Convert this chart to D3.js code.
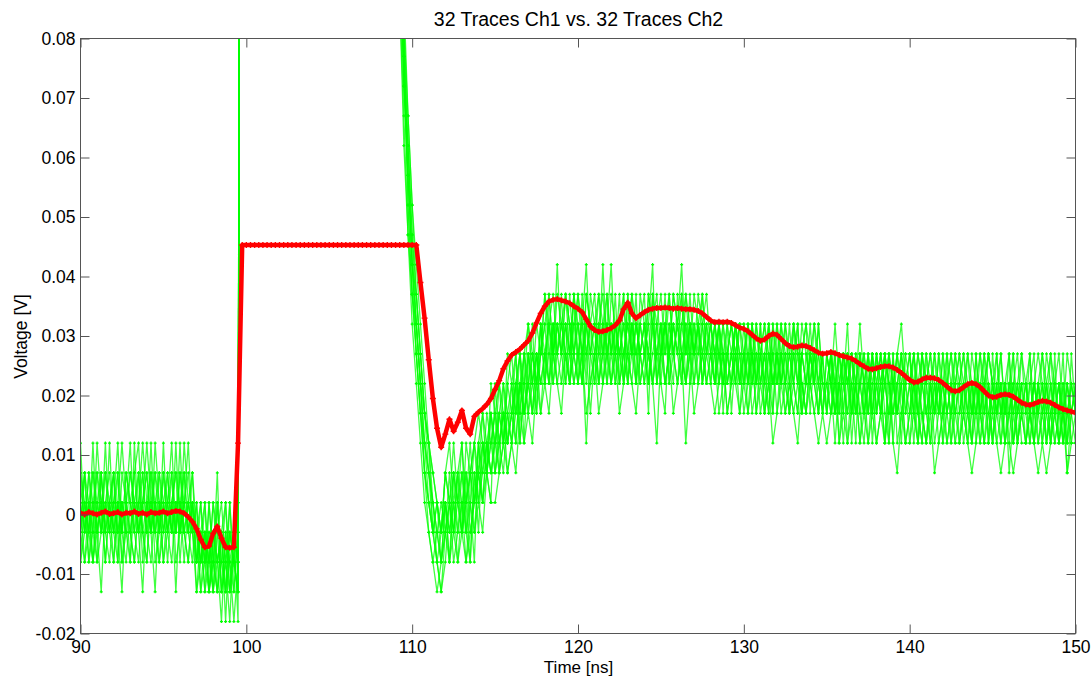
<!DOCTYPE html>
<html>
<head>
<meta charset="utf-8">
<script src="https://cdn.jsdelivr.net/npm/d3@7"></script>
<style>
  body { margin: 0; background: #fff; }
  svg { display: block; font-family: "Liberation Sans", Arial, sans-serif; }
</style>
</head>
<body>
<svg id="chart" width="1091" height="676"></svg>
<script>
// sample grid of the scope (ns) and values in mV
const timeStart = 90;
const timeStep = 0.25;
const postStart = 109; // first sample after the off-scale part of Ch1
const mV = 0.001;

const xTicks = [90, 100, 110, 120, 130, 140, 150];
const yTicks = [-0.02, -0.01, 0, 0.01, 0.02, 0.03, 0.04, 0.05, 0.06, 0.07, 0.08];

// Ch1, 90 .. 99.75 ns (last sample is off scale)
const ch1Pre = [
  [2,-3,7,2, -8,-3,2,7, -3,2,12,2, -3,-8,2,7, -3,2,-3,7, 2,-8,2,-3, 7,2,-3,2, -8,-3,-13,-8, 2,-8,-3,-13, -8,-3,-8, 300],
  [-3,7,-3,2, 7,2,-8,2, -3,-8,7,2, 12,-3,2,-3, 2,7,-8,-3, 7,2,-3,12, -3,2,7,-3, -3,2,-8,-13, -3,-8,-18,-3, -13,-8,2, 300],
  [7,-3,2,-8, 2,-3,7,2, -8,2,-3,7, 2,-3,-8,2, 12,2,-3,2, -3,7,-3,2, 2,-8,2,-3, -13,-3,-8,2, -8,-13,-3,-8, 2,-13,-3, 300],
  [-8,2,-3,7, -3,-13,2,-3, 7,-3,2,-3, -3,7,12,-3, -8,2,7,-3, 2,-3,7,-8, -3,7,-3,-8, 2,-8,-3,-13, -8,7,-13,-3, -8,-18,-8, 300],
  [2,7,-8,-3, 12,2,-3,-8, 2,7,-3,2, -8,2,-3,-13, 2,-3,2,7, -3,2,12,-3, 2,-3,2,7, -3,-13,-3,-8, -13,-3,2,-8, -3,-8,-13, 300],
  [-3,-8,2,7, 2,7,-3,12, -3,2,-8,-3, 7,2,-3,2, -3,-8,2,-3, 7,-3,2,7, 2,-3,-8,2, -8,-3,2,-8, -3,-13,-8,2, -13,-3,-8, 300],
  [7,2,-3,-8, -3,2,7,-3, 2,12,-3,-8, 2,7,-3,2, 7,-3,12,2, -8,2,-3,2, -3,12,2,-3, -8,2,-8,-3, -13,-8,-3,-13, -3,-8,-13, 300],
  [-3,2,-8,2, -3,7,-3,2, 7,-8,2,-3, -3,2,7,-8, 2,-3,-13,2, 2,7,-3,-3, 7,-3,2,-3, -3,-8,-3,-13, -8,2,-13,-8, -18,-3,2, 300],
  [-3,7,2,-8, 2,-3,12,-3, -8,2,-3,7, 2,-3,7,-3, -8,7,2,-3, 12,-3,-8,2, -3,2,-3,7, -8,-3,-13,2, -8,-13,-3,-18, -3,-8,-13, 300],
  [2,-8,-3,12, -3,2,-8,2, 7,-3,2,-3, -8,12,-3,2, 7,-3,2,-8, -3,2,7,-3, 12,-3,-8,2, -3,-8,2,-13, -3,-8,-3,2, -8,-13,-3, 300],
  [-8,-3,7,-3, 7,-3,2,-3, 2,-3,-13,2, 7,2,-3,7, -3,12,-3,-8, 2,-3,2,7, -8,2,12,-3, 2,-13,-8,-3, -13,2,-8,-13, 2,-8,-3, 300],
  [12,-3,2,-3, -8,7,-3,2, -3,7,-8,2, -3,-8,2,12, 2,-3,7,2, -8,-3,2,-13, 2,7,-3,2, -13,-8,-3,-8, 2,-3,-13,-8, -13,-3,-18, 300]
];

// Ch1, 109 .. 150 ns (first sample is off scale)
const ch1Post = [
  [300, 97,77,57,
   42,32,22,12, 7,2,-3,-8,
   -3,2,7,-3, 7,2,12,2, 7,12,7,17, 12,17,22,12, 22,17,27,22, 17,27,22,32,
   27,32,37,27, 22,32,27,37, 32,22,27,32, 37,27,22,32, 42,27,32,22, 37,27,32,27, 22,37,32,27, 32,22,27,37, 32,27,22,32, 27,37,32,22,
   27,22,32,17, 27,22,32,27,
   17,22,32,27, 22,27,17,32, 22,27,22,17, 27,32,22,17, 27,22,27,22,
   22,17,27,12, 22,17,22,27, 17,12,22,27, 17,22,12,27, 22,17,22,12,
   17,27,22,17, 12,22,17,27, 22,12,17,22, 27,17,12,22, 17,22,12,17,
   22,12,17,22, 7,17,12,22, 17,27,12,17, 22,12,17,22, 17,12,22,17,
   12],
  [300, 102,72,62,
   47,37,27,17, 12,2,-8,-13,
   -8,2,-3,7, 2,-3,7,12, 2,7,17,12, 17,7,12,22, 17,27,12,22, 27,22,32,27,
   37,27,22,32, 27,37,32,22, 27,32,42,27, 22,32,27,37, 27,32,22,27, 32,27,27,32, 27,22,32,37, 27,32,27,22, 37,27,12,22, 32,27,37,27,
   22,32,27,22, 32,17,27,22,
   27,32,22,27, 17,22,32,22, 27,17,22,32, 22,27,17,22, 32,22,17,27,
   17,27,22,17, 27,12,22,17, 22,27,17,22, 12,17,27,22, 17,22,27,17,
   22,12,22,27, 17,22,12,17, 27,17,22,12, 17,22,27,17, 22,12,17,22,
   17,22,12,17, 22,17,22,12, 12,22,17,12, 17,22,12,27, 12,17,22,12,
   17],
  [300, 92,82,52,
   37,27,17,7, 2,-3,2,-3,
   2,-8,7,2, -3,7,2,-8, 12,7,12,17, 7,17,12,17, 12,22,17,27, 22,17,27,22,
   22,32,27,37, 32,27,22,32, 37,27,32,22, 27,32,37,27, 22,27,32,37, 27,22,32,27, 32,17,37,32, 22,32,27,32, 27,37,22,27, 32,22,27,32,
   32,27,17,22, 22,27,32,22,
   32,22,27,17, 27,32,22,27, 17,27,32,22, 27,22,27,32, 17,27,22,17,
   27,22,12,22, 17,27,22,12, 27,17,22,17, 22,27,17,12, 27,12,17,22,
   27,17,12,22, 22,27,17,22, 17,22,27,17, 12,17,22,12, 27,17,22,17,
   12,17,22,17, 27,12,17,22, 22,17,12,22, 12,17,27,17, 22,12,17,22,
   22],
  [300, 97,72,57,
   42,27,17,12, 7,-3,-8,-13,
   -3,7,-3,2, 12,-3,-8,7, -3,12,7,12, 17,12,7,17, 22,12,22,17, 22,32,17,27,
   32,22,27,42, 27,32,22,27, 22,37,27,32, 32,22,27,22, 37,32,27,32, 22,27,37,22, 27,32,22,32, 37,27,32,27, 22,32,27,37, 27,22,32,27,
   27,32,22,27, 17,22,27,32,
   22,27,17,22, 32,17,27,22, 22,32,27,22, 17,22,32,27, 22,17,22,27,
   27,22,17,22, 12,22,27,17, 22,17,27,22, 27,22,12,17, 22,27,17,22,
   12,22,17,12, 27,17,22,12, 17,22,17,27, 22,12,17,22, 12,22,27,12,
   27,17,22,12, 17,22,12,17, 22,12,17,22, 27,17,22,12, 17,22,7,17,
   22],
  [300, 102,77,62,
   47,32,22,17, 12,7,2,-3,
   7,2,12,2, -3,2,7,-3, 7,2,12,7, 12,22,17,12, 17,22,27,12, 27,22,17,32,
   22,27,32,27, 37,22,27,32, 27,32,22,37, 32,27,42,27, 32,22,27,32, 27,32,22,37, 32,27,22,27, 27,37,22,32, 27,22,32,27, 37,32,22,32,
   22,27,32,27, 27,32,22,17,
   27,22,32,22, 22,27,22,17, 32,22,27,27, 22,17,27,22, 27,22,32,22,
   22,27,17,27, 22,17,27,22, 12,22,17,27, 17,27,22,27, 12,22,27,17,
   22,17,27,22, 17,12,22,17, 22,27,12,17, 17,22,17,27, 22,17,12,22,
   17,27,17,12, 22,12,22,17, 17,22,27,12, 17,12,22,17, 22,17,12,27,
   17],
  [300, 92,77,52,
   37,32,22,12, 2,-3,-3,-8,
   2,-3,2,-8, 2,7,-3,2, 12,2,7,12, 7,12,17,7, 12,17,22,27, 17,22,27,17,
   27,22,32,22, 22,27,37,27, 32,27,12,27, 27,37,32,22, 27,22,32,27, 22,32,27,32, 37,22,27,32, 27,32,22,27, 32,22,37,32, 22,27,32,37,
   27,22,27,32, 27,22,32,27,
   27,17,22,27, 27,22,32,27, 22,27,17,22, 32,27,22,17, 27,22,17,22,
   22,17,22,27, 17,27,17,22, 27,22,12,22, 22,17,22,17, 17,27,22,12,
   17,22,12,27, 22,17,27,22, 12,17,22,17, 22,27,17,12, 17,12,22,27,
   22,17,12,22, 12,22,17,27, 17,12,22,17, 22,17,12,22, 12,22,17,12,
   12],
  [300, 97,82,62,
   42,37,27,17, 7,2,-3,-3,
   2,-3,7,2, 7,-3,2,12, 7,17,12,7, 12,17,12,22, 27,17,22,17, 22,27,22,27,
   32,37,27,22, 27,32,27,37, 22,27,32,27, 32,22,27,32, 27,37,22,27, 32,27,22,27, 27,32,42,22, 32,27,37,27, 22,27,32,22, 27,32,22,27,
   32,22,27,22, 27,32,27,22,
   22,32,27,22, 27,17,22,32, 27,22,27,17, 22,32,17,27, 22,27,22,17,
   27,22,17,22, 22,27,12,22, 17,22,27,12, 22,17,27,22, 17,22,12,27,
   22,27,17,12, 22,12,17,27, 17,22,27,22, 12,22,17,12, 22,27,17,22,
   12,22,27,17, 17,12,17,22, 22,17,22,17, 12,22,17,12, 17,27,12,22,
   17],
  [300, 92,72,57,
   42,32,22,7, 2,-3,-8,-3,
   7,2,-3,-8, -3,12,7,2, 12,17,7,2, 22,12,17,12, 17,22,12,22, 32,22,27,22,
   27,32,22,27, 32,37,27,22, 27,22,37,32, 22,27,32,27, 32,27,37,22, 27,37,32,27, 32,27,22,27, 22,17,32,27, 32,42,27,32, 27,32,27,22,
   27,32,27,27, 22,27,22,32,
   27,22,27,32, 22,27,32,17, 27,22,22,27, 27,22,17,22, 22,27,17,27,
   17,22,27,17, 27,22,17,27, 22,17,22,27, 17,22,27,12, 22,17,22,27,
   27,17,22,17, 12,22,17,22, 22,17,12,22, 27,22,12,17, 17,22,17,27,
   22,17,22,12, 17,27,12,17, 12,17,22,27, 22,12,17,22, 27,17,12,17,
   22],
  [300, 107,82,67,
   52,37,27,17, 12,-3,2,-8,
   2,-8,-3,7, -3,2,-8,7, 2,12,7,17, 12,7,22,17, 12,22,27,17, 27,17,22,32,
   22,37,27,32, 27,22,32,27, 37,32,27,17, 27,32,22,27, 32,27,22,37, 22,32,27,22, 27,37,32,27, 32,22,27,32, 27,32,37,27, 22,32,27,32,
   27,22,32,27, 32,27,22,27,
   22,27,32,22, 27,22,17,27, 32,27,22,27, 22,17,27,32, 27,22,32,22,
   17,27,22,27, 22,32,17,22, 27,22,17,27, 22,27,22,17, 27,17,22,22,
   17,22,27,22, 27,22,17,22, 12,27,22,17, 22,17,27,22, 17,27,22,12,
   22,17,27,17, 22,27,17,22, 12,17,22,17, 27,22,12,17, 22,12,17,22,
   17],
  [300, 87,67,47,
   32,22,12,2, -3,-8,-3,2,
   -3,-8,2,-3, 2,-8,-3,2, 7,2,12,7, 7,12,17,12, 17,12,22,17, 22,17,27,22,
   27,22,32,27, 32,27,22,37, 27,22,32,27, 32,37,27,32, 22,32,27,27, 32,37,22,32, 27,22,32,22, 27,32,37,27, 32,27,22,32, 27,32,22,27,
   32,27,22,32, 22,27,32,22,
   27,32,27,22, 32,22,27,22, 27,32,22,17, 32,22,27,22, 22,32,27,17,
   22,27,17,22, 27,22,27,17, 22,27,22,17, 27,17,22,27, 22,17,27,22,
   22,27,17,22, 17,22,27,17, 22,17,22,27, 17,22,22,17, 22,17,27,22,
   12,22,17,22, 17,22,27,17, 22,17,12,22, 17,27,22,17, 12,17,22,17,
   22],
  [300, 107,87,67,
   52,42,32,22, 12,7,2,-3,
   7,12,2,7, 12,2,7,12, 17,12,7,22, 17,22,12,27, 22,27,17,27, 32,27,22,27,
   37,32,27,32, 27,37,32,27, 32,27,37,32, 27,22,32,37, 27,32,27,22, 37,27,32,27, 32,27,37,22, 27,32,27,37, 32,37,27,32, 27,32,37,27,
   32,27,32,22, 27,32,27,32,
   32,27,22,32, 27,32,27,22, 27,22,32,27, 32,27,27,22, 27,32,22,27,
   27,22,32,22, 27,22,27,22, 32,22,27,17, 27,22,27,22, 22,27,32,22,
   27,22,17,27, 22,27,22,17, 27,22,17,22, 22,27,22,17, 27,17,22,27,
   22,27,17,22, 27,17,22,27, 22,27,17,22, 17,22,27,22, 22,17,27,22,
   17],
  [300, 87,62,47,
   37,27,17,7, -3,-8,-13,-8,
   -3,2,-8,-3, -3,-8,2,-3, 2,-3,7,2, 2,7,12,7, 12,7,17,12, 17,12,22,17,
   22,17,27,22, 17,27,22,27, 22,27,17,22, 27,17,22,27, 22,27,17,22, 27,22,17,27, 22,27,22,12, 27,22,27,17, 22,27,22,27, 17,22,27,22,
   22,17,22,27, 17,22,27,17,
   22,17,27,17, 22,17,22,12, 17,22,17,22, 17,12,22,17, 22,17,12,17,
   12,17,22,12, 17,12,17,22, 12,17,12,17, 12,17,12,22, 12,7,17,12,
   12,17,12,17, 12,17,7,12, 17,12,17,12, 12,17,12,7, 12,17,12,12,
   17,12,7,12, 12,7,12,17, 12,17,12,7, 12,7,12,17, 12,17,7,12,
   12]
];

// Ch2, 90 .. 150 ns
const ch2 = [
  0.3,0,0.4,0.2, 0,0.3,0.5,0.1, 0.2,0.4,0,0.3, 0.2,0.5,0.1,0.3, 0,0.4,0.2,0.3,
  0.5,0.2,0.4,0.6, 0.5,0.2,-0.4,-1.2, -2.4,-4.2,-5.5,-5.3, -3.2,-2.0,-4.0,-5.5, -5.6,-5.5,12,45.3,
  45.3,45.3,45.3,45.3, 45.3,45.3,45.3,45.3, 45.3,45.3,45.3,45.3, 45.3,45.3,45.3,45.3, 45.3,45.3,45.3,45.3,
  45.3,45.3,45.3,45.3, 45.3,45.3,45.3,45.3, 45.3,45.3,45.3,45.3, 45.3,45.3,45.3,45.3, 45.3,45.3,45.3,45.3,
  45.3,45.3,39,33, 26,19.5,14.5,11.3,
  13.5,16,14,15.5, 17.5,14.5,13.5,16.5, 17.2,17.8,18.5,19.5, 21,22.5,24.5,25.8, 26.8,27.3,27.8,28.5, 29.2,30.5,32.2,33.8,
  35,35.8,36.1,36.2, 36,35.8,35.5,35, 34.6,34,32.8,31.6, 31,30.7,30.8,31, 31.3,31.8,32.6,34.5,
  35.6,33.8,33,33.5, 34,34.4,34.6,34.7, 34.7,34.8,34.7,34.6, 34.7,34.6,34.5,34.5, 34.4,34.2,33.8,33.2,
  32.6,32.3,32.4,32.3, 32.4,32.2,31.8,31.4, 31.2,30.8,30.2,29.6, 29.2,29.4,30,30.4, 30.2,29.5,28.8,28.3,
  28.1,28.2,28.4,28.3, 28,27.6,27.2,27, 27.1,27.3,27.1,26.8, 26.6,26.4,26.2,25.8, 25.3,24.9,24.5,24.4,
  24.6,24.8,24.9,24.9, 24.7,24.3,23.8,23.2, 22.6,22.2,22.3,22.7, 23,23,22.9,22.6, 22.1,21.5,20.9,20.7,
  20.9,21.4,21.9,22.1, 21.9,21.4,20.7,20, 19.7,19.8,20.1,20.2, 20.1,19.8,19.3,18.8, 18.5,18.4,18.6,18.9,
  19.1,19,18.8,18.4, 18,17.7,17.5,17.3, 17.1
];

const svg = d3.select("#chart");
const width = +svg.attr("width");
const height = +svg.attr("height");

const margin = { top: 39, right: 15, bottom: 42, left: 81 };
const innerWidth = width - margin.left - margin.right;
const innerHeight = height - margin.top - margin.bottom;

const g = svg.append("g")
  .attr("transform", `translate(${margin.left - 0.5},${margin.top - 0.5})`);

const xScale = d3.scaleLinear().domain([90, 150]).range([0, innerWidth]);
const yScale = d3.scaleLinear().domain([-0.02, 0.08]).range([innerHeight, 0]);

g.append("clipPath").attr("id", "plotClip")
  .append("rect").attr("width", innerWidth).attr("height", innerHeight);

const plot = g.append("g").attr("clip-path", "url(#plotClip)");

const toPoints = (vals, t0) => vals.map((v, i) => ({ t: t0 + i * timeStep, v: v * mV }));

const line = d3.line()
  .x((d) => xScale(d.t))
  .y((d) => yScale(d.v));

// Ch1 traces, green
const greenTraces = [];
ch1Pre.forEach((vals) => greenTraces.push(toPoints(vals, timeStart)));
ch1Post.forEach((vals) => greenTraces.push(toPoints(vals, postStart)));

const greenGroup = plot.append("g");
greenTraces.forEach((pts) => {
  greenGroup.append("path")
    .datum(pts)
    .attr("d", line)
    .attr("fill", "none")
    .attr("stroke", "#00ff00")
    .attr("stroke-opacity", 0.75)
    .attr("stroke-width", 1.3);
});
greenTraces.forEach((pts) => {
  greenGroup.append("g").selectAll("path")
    .data(pts.filter((d) => d.v < 0.1))
    .join("path")
    .attr("transform", (d) => `translate(${xScale(d.t)},${yScale(d.v)})`)
    .attr("d", "M-1.5,0H1.5M0,-1.5V1.5")
    .attr("stroke", "#00ff00")
    .attr("stroke-width", 1.2);
});

// Ch2, red with + markers
const redPts = toPoints(ch2, timeStart);
plot.append("path")
  .datum(redPts)
  .attr("d", line)
  .attr("fill", "none")
  .attr("stroke", "#ff0000")
  .attr("stroke-width", 4.5)
  .attr("stroke-linejoin", "round");
plot.append("g").selectAll("path")
  .data(redPts)
  .join("path")
  .attr("transform", (d) => `translate(${xScale(d.t)},${yScale(d.v)})`)
  .attr("d", "M-3,0H3M0,-3V3")
  .attr("stroke", "#ff0000")
  .attr("stroke-width", 1.4);

// axes, ticks inside on all four sides
const tickLen = 9;
const axisColor = "#555";

function styleAxis(sel) {
  sel.select(".domain").remove();
  sel.selectAll(".tick line").attr("stroke", axisColor);
  sel.selectAll("text")
    .attr("fill", "#000")
    .style("font-size", "17.5px");
}

g.append("g")
  .call(d3.axisTop(xScale).tickValues(xTicks).tickSize(-tickLen).tickFormat(""))
  .call(styleAxis);
g.append("g")
  .attr("transform", `translate(${innerWidth},0)`)
  .call(d3.axisRight(yScale).tickValues(yTicks).tickSize(-tickLen).tickFormat(""))
  .call(styleAxis);
g.append("g")
  .call(d3.axisLeft(yScale).tickValues(yTicks).tickSize(-tickLen).tickPadding(5).tickFormat((d) => String(d)))
  .call(styleAxis);
g.append("g")
  .attr("transform", `translate(0,${innerHeight})`)
  .call(d3.axisBottom(xScale).tickValues(xTicks).tickSize(-tickLen).tickPadding(7).tickFormat((d) => String(d)))
  .call(styleAxis);

g.append("rect")
  .attr("width", innerWidth)
  .attr("height", innerHeight)
  .attr("fill", "none")
  .attr("stroke", axisColor);

// title and axis labels
svg.append("text")
  .attr("x", margin.left + innerWidth / 2)
  .attr("y", 26)
  .attr("text-anchor", "middle")
  .style("font-size", "19.5px")
  .text("32 Traces Ch1 vs. 32 Traces Ch2");

svg.append("text")
  .attr("x", margin.left + innerWidth / 2)
  .attr("y", 673)
  .attr("text-anchor", "middle")
  .style("font-size", "17px")
  .text("Time [ns]");

svg.append("text")
  .attr("transform", `translate(27,${margin.top + innerHeight / 2}) rotate(-90)`)
  .attr("text-anchor", "middle")
  .style("font-size", "17.5px")
  .text("Voltage [V]");
</script>
</body>
</html>
